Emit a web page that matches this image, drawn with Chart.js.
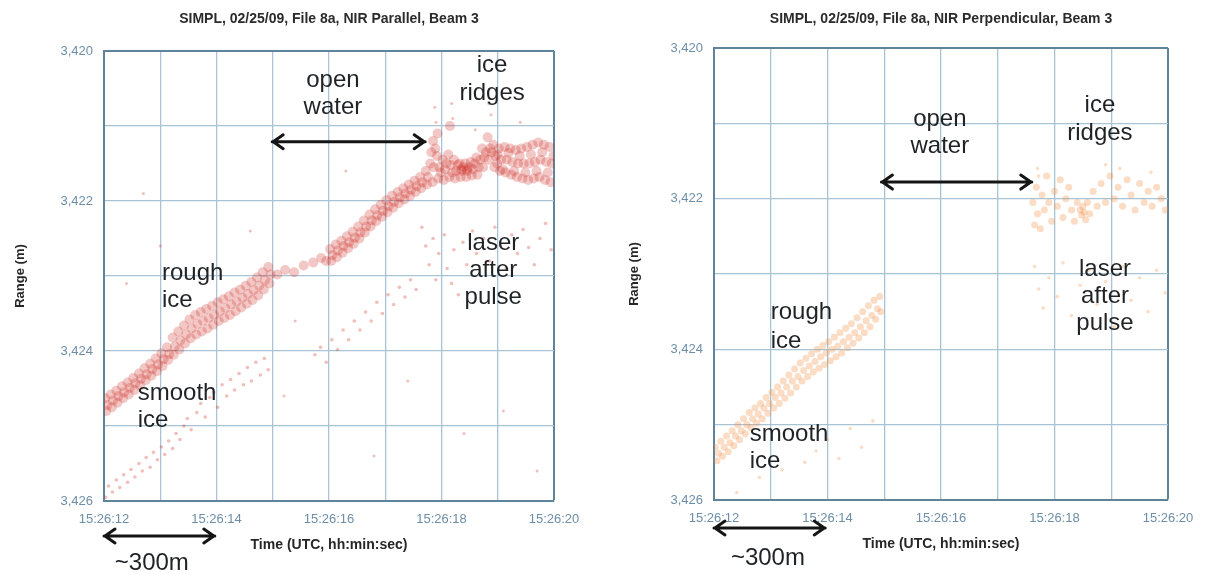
<!DOCTYPE html>
<html><head><meta charset="utf-8">
<script src="https://cdn.jsdelivr.net/npm/chart.js@4.4.0/dist/chart.umd.min.js"></script>
<style>
html,body{margin:0;padding:0;background:#fff;overflow:hidden;width:1208px;height:575px}
.box{position:absolute;top:0;height:575px;width:604px}
#b1{left:0}
#b2{left:604px}
</style></head><body>
<div class="box" id="b1"><canvas id="c1"></canvas></div>
<div class="box" id="b2"><canvas id="c2"></canvas></div>
<script>
// ---------- data (time = seconds after 15:26:00, range in m) ----------
const timeTicks = [12, 14, 16, 18, 20];
const timeTickLabels = ['15:26:12', '15:26:14', '15:26:16', '15:26:18', '15:26:20'];
const rangeTicks = [3420, 3422, 3424, 3426];
const rangeTickLabels = ['3,420', '3,422', '3,424', '3,426'];

const parallelSurface = [
[12.02,3424.63],[12.04,3424.80],[12.06,3424.72],[12.12,3424.58],[12.14,3424.75],[12.16,3424.66],
[12.22,3424.53],[12.24,3424.69],[12.26,3424.60],[12.32,3424.47],[12.34,3424.63],[12.36,3424.55],
[12.42,3424.42],[12.44,3424.58],[12.46,3424.49],[12.52,3424.36],[12.54,3424.52],[12.56,3424.43],
[12.62,3424.30],[12.64,3424.46],[12.66,3424.37],[12.72,3424.23],[12.74,3424.39],[12.76,3424.31],
[12.82,3424.17],[12.84,3424.33],[12.86,3424.24],[12.92,3424.10],[12.94,3424.27],[12.96,3424.18],
[13.02,3424.03],[13.04,3424.20],[13.06,3424.11],[13.12,3423.95],[13.14,3424.12],[13.16,3424.04],
[13.22,3423.82],[13.24,3424.05],[13.26,3423.94],[13.32,3423.74],[13.34,3423.98],[13.36,3423.86],
[13.42,3423.66],[13.44,3423.90],[13.46,3423.78],[13.52,3423.58],[13.54,3423.83],[13.56,3423.70],
[13.62,3423.52],[13.64,3423.78],[13.66,3423.64],[13.72,3423.48],[13.74,3423.74],[13.76,3423.60],
[13.82,3423.44],[13.84,3423.70],[13.86,3423.56],[13.92,3423.40],[13.94,3423.65],[13.96,3423.52],
[14.02,3423.35],[14.04,3423.60],[14.06,3423.47],[14.12,3423.31],[14.14,3423.56],[14.16,3423.43],
[14.22,3423.27],[14.24,3423.52],[14.26,3423.38],[14.32,3423.22],[14.34,3423.47],[14.36,3423.34],
[14.42,3423.18],[14.44,3423.42],[14.46,3423.29],[14.52,3423.13],[14.54,3423.37],[14.56,3423.24],
[14.62,3423.08],[14.64,3423.32],[14.66,3423.19],[14.72,3423.02],[14.74,3423.26],[14.76,3423.13],
[14.82,3422.95],[14.84,3423.18],[14.86,3423.06],[14.92,3422.88],[14.94,3423.10],[14.96,3422.98],
[15.08,3422.98],[15.22,3422.92],[15.38,3422.95],[15.55,3422.86],[15.72,3422.82],[15.86,3422.76],[15.95,3422.80],
[16.02,3422.64],[16.04,3422.80],[16.06,3422.72],[16.12,3422.58],[16.14,3422.75],[16.16,3422.66],
[16.22,3422.53],[16.24,3422.69],[16.26,3422.60],[16.32,3422.47],[16.34,3422.63],[16.36,3422.55],
[16.42,3422.41],[16.44,3422.57],[16.46,3422.49],[16.52,3422.34],[16.54,3422.50],[16.56,3422.42],
[16.62,3422.26],[16.64,3422.42],[16.66,3422.34],[16.72,3422.18],[16.74,3422.34],[16.76,3422.26],
[16.82,3422.11],[16.84,3422.27],[16.86,3422.19],[16.92,3422.05],[16.94,3422.21],[16.96,3422.13],
[17.02,3421.99],[17.04,3422.15],[17.06,3422.07],[17.12,3421.93],[17.14,3422.09],[17.16,3422.01],
[17.22,3421.88],[17.24,3422.03],[17.26,3421.95],[17.32,3421.83],[17.34,3421.98],[17.36,3421.90],
[17.42,3421.78],[17.44,3421.93],[17.46,3421.85],[17.52,3421.73],[17.54,3421.88],[17.56,3421.80],
[17.62,3421.68],[17.64,3421.83],[17.66,3421.75],[17.72,3421.60],[17.74,3421.78],[17.76,3421.68],
[17.82,3421.35],[17.84,3421.75],[17.86,3421.55],[17.85,3421.20],[17.92,3421.40],[17.94,3421.70],
[17.96,3421.55],[17.93,3421.10],[18.02,3421.45],[18.04,3421.72],[18.06,3421.58],[18.12,3421.38],
[18.14,3421.68],[18.16,3421.52],[18.15,3421.00],[18.22,3421.45],[18.24,3421.70],[18.26,3421.60],
[18.32,3421.50],[18.34,3421.68],[18.36,3421.60],[18.35,3421.58],[18.42,3421.50],[18.44,3421.68],
[18.46,3421.60],[18.45,3421.58],[18.52,3421.48],[18.54,3421.66],[18.56,3421.58],[18.62,3421.42],
[18.64,3421.65],[18.66,3421.55],[18.72,3421.30],[18.74,3421.55],[18.76,3421.42],[18.82,3421.15],
[18.84,3421.45],[18.86,3421.30],[18.92,3421.25],[18.94,3421.55],[18.96,3421.40],[19.02,3421.30],
[19.04,3421.60],[19.06,3421.45],[19.12,3421.28],[19.14,3421.62],[19.16,3421.45],[19.22,3421.30],
[19.24,3421.65],[19.26,3421.48],[19.32,3421.32],[19.34,3421.68],[19.36,3421.50],[19.42,3421.30],
[19.44,3421.70],[19.46,3421.50],[19.52,3421.28],[19.54,3421.72],[19.56,3421.50],[19.62,3421.25],
[19.64,3421.70],[19.66,3421.48],[19.72,3421.22],[19.74,3421.68],[19.76,3421.45],[19.82,3421.25],
[19.84,3421.72],[19.86,3421.48],[19.92,3421.28],[19.94,3421.75],[19.96,3421.50],
[19.00,3421.38],[19.09,3421.58],[19.19,3421.36],[19.29,3421.60],[19.39,3421.40],[19.49,3421.62],
[19.59,3421.38],[19.69,3421.60],[19.79,3421.35],[19.89,3421.62],[19.99,3421.40],[18.69,3421.45],
[18.79,3421.35],[18.89,3421.35],[18.99,3421.50],[17.99,3421.62],[18.09,3421.50],[18.19,3421.62],
[18.29,3421.52],[18.39,3421.55],[18.49,3421.55],[18.59,3421.50],[17.89,3421.30],[17.80,3421.50]
];

const parallelAfterPulse = [
[12.03,3425.95],[12.08,3425.80],[12.15,3425.88],[12.22,3425.72],[12.28,3425.82],[12.35,3425.65],
[12.42,3425.75],[12.48,3425.58],[12.55,3425.68],[12.62,3425.50],[12.68,3425.60],[12.75,3425.42],
[12.82,3425.55],[12.88,3425.35],[12.95,3425.45],[13.02,3425.28],[13.08,3425.38],[13.15,3425.20],
[13.22,3425.30],[13.28,3425.10],[13.35,3425.18],[13.42,3425.00],[13.48,3424.90],[13.55,3425.05],
[13.65,3424.82],[13.72,3424.70],[13.80,3424.88],[13.88,3424.62],[13.95,3424.55],[14.02,3424.75],
[14.10,3424.45],[14.18,3424.60],[14.25,3424.38],[14.32,3424.52],[14.40,3424.30],[14.48,3424.45],
[14.55,3424.22],[14.62,3424.40],[14.70,3424.15],[14.78,3424.32],[14.85,3424.10],[14.92,3424.25],
[15.75,3424.05],[15.85,3423.95],[15.95,3424.15],[16.05,3423.85],[16.15,3423.98],[16.25,3423.72],
[16.35,3423.85],[16.45,3423.60],[16.55,3423.72],[16.65,3423.48],[16.75,3423.60],[16.85,3423.35],
[16.95,3423.50],[17.05,3423.25],[17.15,3423.38],[17.25,3423.15],[17.35,3423.28],[17.45,3423.05],
[17.55,3423.18],[17.65,3422.35],[17.72,3422.60],[17.78,3422.85],[17.85,3422.50],[17.90,3423.05],
[17.95,3422.70],[18.05,3422.45],[18.10,3422.90],[18.18,3423.10],[18.22,3422.65],[18.30,3423.25],
[18.38,3422.55],[18.45,3422.85],[18.55,3422.40],[18.62,3422.70],[18.75,3422.50],[18.85,3422.80],
[18.95,3422.35],[19.05,3422.60],[19.15,3422.90],[19.25,3422.45],[19.35,3422.70],[19.45,3422.38],
[19.55,3422.62],[19.65,3422.85],[19.75,3422.50],[19.85,3422.30],[19.95,3422.65]
];

const parallelScatter = [
[17.88,3420.75],[17.90,3420.95],[18.18,3420.70],[18.20,3420.90],[18.84,3420.70],[18.88,3420.85],
[18.60,3421.05],[19.40,3420.95],[12.40,3423.10],[13.00,3422.60],[14.60,3422.40],[15.40,3423.60],
[15.20,3424.60],[16.30,3421.60],[16.80,3425.40],[17.40,3424.40],[19.10,3424.80],[19.70,3425.60],
[18.40,3425.10],[12.70,3421.90]
];

const perpSurface = [
[12.02,3425.30],[12.05,3425.48],[12.08,3425.38],[12.12,3425.22],[12.15,3425.42],[12.18,3425.30],
[12.22,3425.15],[12.25,3425.36],[12.28,3425.24],[12.32,3425.08],[12.35,3425.28],[12.38,3425.15],
[12.42,3425.00],[12.45,3425.20],[12.48,3425.08],[12.52,3424.92],[12.55,3425.12],[12.58,3425.00],
[12.62,3424.84],[12.65,3425.04],[12.68,3424.92],[12.72,3424.78],[12.75,3424.98],[12.78,3424.86],
[12.82,3424.72],[12.85,3424.92],[12.88,3424.78],[12.92,3424.64],[12.95,3424.85],[12.98,3424.72],
[13.02,3424.57],[13.05,3424.78],[13.08,3424.64],[13.12,3424.50],[13.15,3424.72],[13.18,3424.58],
[13.22,3424.42],[13.25,3424.65],[13.28,3424.50],[13.32,3424.34],[13.35,3424.58],[13.38,3424.42],
[13.42,3424.26],[13.45,3424.50],[13.48,3424.36],[13.52,3424.18],[13.55,3424.42],[13.58,3424.28],
[13.62,3424.12],[13.65,3424.36],[13.68,3424.22],[13.72,3424.06],[13.75,3424.30],[13.78,3424.16],
[13.82,3424.00],[13.85,3424.25],[13.88,3424.10],[13.92,3423.95],[13.95,3424.20],[13.98,3424.05],
[14.02,3423.90],[14.05,3424.15],[14.08,3424.00],[14.12,3423.84],[14.15,3424.10],[14.18,3423.96],
[14.22,3423.78],[14.25,3424.05],[14.28,3423.90],[14.32,3423.72],[14.35,3423.98],[14.38,3423.84],
[14.42,3423.66],[14.45,3423.92],[14.48,3423.78],[14.52,3423.58],[14.55,3423.85],[14.58,3423.70],
[14.62,3423.50],[14.65,3423.78],[14.68,3423.62],[14.72,3423.42],[14.75,3423.70],[14.78,3423.55],
[14.82,3423.35],[14.85,3423.60],[14.88,3423.46],[14.92,3423.30],[14.94,3423.50],
[17.62,3422.05],[17.65,3422.35],[17.68,3421.85],[17.70,3422.20],[17.75,3422.40],[17.78,3421.95],
[17.82,3422.15],[17.86,3421.70],[17.90,3422.05],[17.95,3422.30],[18.00,3421.90],[18.05,3422.10],
[18.10,3421.75],[18.15,3422.25],[18.20,3422.00],[18.25,3421.85],[18.30,3422.15],[18.35,3422.30],
[18.40,3422.05],[18.45,3422.15],[18.48,3422.22],[18.50,3422.10],[18.52,3422.18],[18.55,3422.28],
[18.58,3422.05],[18.62,3422.20],[18.68,3421.90],[18.75,3422.10],[18.82,3421.80],[18.90,3422.05],
[18.98,3421.70],[19.05,3422.00],[19.12,3421.85],[19.20,3422.10],[19.28,3421.75],[19.35,3421.95],
[19.42,3422.15],[19.50,3421.80],[19.58,3422.05],[19.65,3421.90],[19.72,3422.10],[19.80,3421.85],
[19.88,3422.00],[19.95,3422.15]
];

const perpAfterPulse = [
[17.70,3421.60],[17.72,3421.70],[18.90,3421.55],[19.15,3421.60],[19.70,3421.65],
[17.65,3422.90],[17.72,3423.20],[17.80,3423.45],[17.90,3423.05],[18.05,3423.30],[18.15,3422.85],
[18.30,3423.55],[18.45,3423.15],[18.60,3422.95],[18.75,3423.40],[18.90,3423.10],[19.05,3423.70],
[19.20,3422.90],[19.35,3423.35],[19.50,3423.05],[19.65,3423.50],[19.80,3422.95],[19.95,3423.25],
[13.60,3425.50],[13.80,3425.35],[14.00,3425.20],[14.20,3425.45],[14.40,3425.05],[14.60,3425.30],
[14.80,3424.95],[12.40,3425.90],[12.80,3425.70],[13.20,3425.60]
];

// ---------- styling ----------
Chart.defaults.font.family = '"Liberation Sans", Arial, sans-serif';
const gridColor = '#a9c3d4';
const edgeColor = '#5f8399';
const tickColor = '#6d8ea8';
const textColor = '#1f2326';

function toPts(arr){ return arr.map(p => ({x: p[0], y: p[1]})); }

function dblArrow(ctx, x1, x2, y){
  ctx.beginPath();
  ctx.moveTo(x1, y); ctx.lineTo(x2, y);
  ctx.moveTo(x1 + 11, y - 7); ctx.lineTo(x1 + 1, y); ctx.lineTo(x1 + 11, y + 7);
  ctx.moveTo(x2 - 11, y - 7); ctx.lineTo(x2 - 1, y); ctx.lineTo(x2 - 11, y + 7);
  ctx.stroke();
}

function notesPlugin(notes){
  return {
    id: 'notes',
    afterDraw(chart){
      const ctx = chart.ctx, xs = chart.scales.x, ys = chart.scales.y;
      ctx.save();
      ctx.fillStyle = textColor; ctx.strokeStyle = '#151515';
      ctx.lineWidth = 3; ctx.lineCap = 'round'; ctx.lineJoin = 'round';
      ctx.font = '24px "Liberation Sans", Arial, sans-serif';
      ctx.textBaseline = 'middle';
      notes.labels.forEach(l => {
        ctx.textAlign = l.align;
        l.lines.forEach((s, i) => ctx.fillText(s, xs.getPixelForValue(l.t), ys.getPixelForValue(l.r[i])));
      });
      notes.arrows.forEach(a => dblArrow(ctx, xs.getPixelForValue(a.t1), xs.getPixelForValue(a.t2), ys.getPixelForValue(a.r)));
      const b = notes.bottom;
      dblArrow(ctx, xs.getPixelForValue(b.t1), xs.getPixelForValue(b.t2), ys.bottom + b.dy);
      ctx.textAlign = 'center';
      ctx.fillText(b.text, xs.getPixelForValue(b.tt), ys.bottom + b.ty);
      ctx.restore();
    }
  };
}

function ds(arr, r, col){
  return { data: toPts(arr), pointRadius: r, pointHoverRadius: r, pointBackgroundColor: col,
           backgroundColor: col, pointBorderWidth: 0, borderWidth: 0, pointBorderColor: 'rgba(0,0,0,0)' };
}

function makeChart(id, cfg){
  const fillCol = cfg.color;
  return new Chart(document.getElementById(id), {
    type: 'scatter',
    data: { datasets: [
      ds(cfg.surface, cfg.r1, fillCol(cfg.a1)),
      ds(cfg.after, 1.8, fillCol(0.3)),
      ds(cfg.extra, 1.5, fillCol(0.3))
    ]},
    options: {
      responsive: true, maintainAspectRatio: false, animation: false,
      layout: { padding: { left: 0, right: cfg.padRight, top: 0, bottom: 0 } },
      plugins: { legend: { display: false }, tooltip: { enabled: false } },
      scales: {
        xTop: {
          type: 'linear', position: 'top', min: 12, max: 20,
          grid: { display: false }, border: { display: false }, ticks: { display: false },
          title: { display: true, text: cfg.title, color: '#2b2b2b',
                   font: { size: 14, weight: 'bold' }, padding: { top: 11, bottom: 0 } },
          afterFit: s => { s.height = cfg.top; }
        },
        x: {
          type: 'linear', position: 'bottom', min: 12, max: 20,
          grid: { drawTicks: false,
                  color: c => (c.tick && c.tick.value === 20) ? edgeColor : gridColor,
                  lineWidth: c => (c.tick && c.tick.value === 20) ? 2 : 1.3 },
          border: { display: true, color: edgeColor, width: 2 },
          ticks: { stepSize: 1, autoSkip: false, maxRotation: 0, color: tickColor, padding: 11,
                   font: { size: 13 },
                   callback: v => { const i = timeTicks.indexOf(v); return i >= 0 ? timeTickLabels[i] : ''; } },
          title: { display: true, text: 'Time (UTC, hh:min:sec)', color: '#262626',
                   font: { size: 14, weight: 'bold' }, padding: { top: 0, bottom: cfg.xTitlePad } },
          afterFit: s => { s.height = 575 - cfg.bottom; }
        },
        y: {
          type: 'linear', position: 'left', min: 3420, max: 3426, reverse: true,
          grid: { drawTicks: false,
                  color: c => (c.tick && c.tick.value === 3420) ? edgeColor : gridColor,
                  lineWidth: c => (c.tick && c.tick.value === 3420) ? 2 : 1.3 },
          border: { display: true, color: edgeColor, width: 2 },
          ticks: { stepSize: 1, autoSkip: false, color: tickColor, padding: 11, font: { size: 13 },
                   callback: v => { const i = rangeTicks.indexOf(v); return i >= 0 ? rangeTickLabels[i] : ''; } },
          title: { display: true, text: 'Range (m)', color: '#262626',
                   font: { size: 13, weight: 'bold' }, padding: { top: cfg.yTitlePad, bottom: 0 } },
          afterFit: s => { s.width = cfg.left; }
        }
      }
    },
    plugins: [notesPlugin(cfg.notes)]
  });
}

makeChart('c1', {
  title: 'SIMPL, 02/25/09, File 8a, NIR Parallel, Beam 3',
  surface: parallelSurface, after: parallelAfterPulse, extra: parallelScatter,
  color: a => `rgba(206,44,34,${a})`, r1: 5, a1: 0.26,
  left: 104, padRight: 50, top: 51, bottom: 501, xTitlePad: 21, yTitlePad: 13,
  notes: {
    labels: [
      { lines: ['open', 'water'], t: 16.07, r: [3420.39, 3420.75], align: 'center' },
      { lines: ['ice', 'ridges'], t: 18.9, r: [3420.19, 3420.56], align: 'center' },
      { lines: ['laser', 'after', 'pulse'], t: 18.92, r: [3422.56, 3422.92, 3423.28], align: 'center' },
      { lines: ['rough', 'ice'], t: 13.03, r: [3422.96, 3423.32], align: 'left' },
      { lines: ['smooth', 'ice'], t: 12.6, r: [3424.56, 3424.93], align: 'left' }
    ],
    arrows: [ { t1: 14.99, t2: 17.71, r: 3421.21 } ],
    bottom: { t1: 12.0, t2: 13.97, dy: 35, text: '~300m', tt: 12.85, ty: 62 }
  }
});

makeChart('c2', {
  title: 'SIMPL, 02/25/09, File 8a, NIR Perpendicular, Beam 3',
  surface: perpSurface, after: perpAfterPulse, extra: [],
  color: a => `rgba(242,140,62,${a})`, r1: 3.5, a1: 0.3,
  left: 110, padRight: 40, top: 48, bottom: 500, xTitlePad: 22, yTitlePad: 23,
  notes: {
    labels: [
      { lines: ['open', 'water'], t: 15.98, r: [3420.95, 3421.31], align: 'center' },
      { lines: ['ice', 'ridges'], t: 18.8, r: [3420.76, 3421.13], align: 'center' },
      { lines: ['laser', 'after', 'pulse'], t: 18.89, r: [3422.94, 3423.30, 3423.66], align: 'center' },
      { lines: ['rough', 'ice'], t: 13.0, r: [3423.51, 3423.89], align: 'left' },
      { lines: ['smooth', 'ice'], t: 12.63, r: [3425.13, 3425.49], align: 'left' }
    ],
    arrows: [ { t1: 14.95, t2: 17.6, r: 3421.78 } ],
    bottom: { t1: 12.0, t2: 13.96, dy: 28, text: '~300m', tt: 12.95, ty: 58 }
  }
});
</script>
</body></html>
